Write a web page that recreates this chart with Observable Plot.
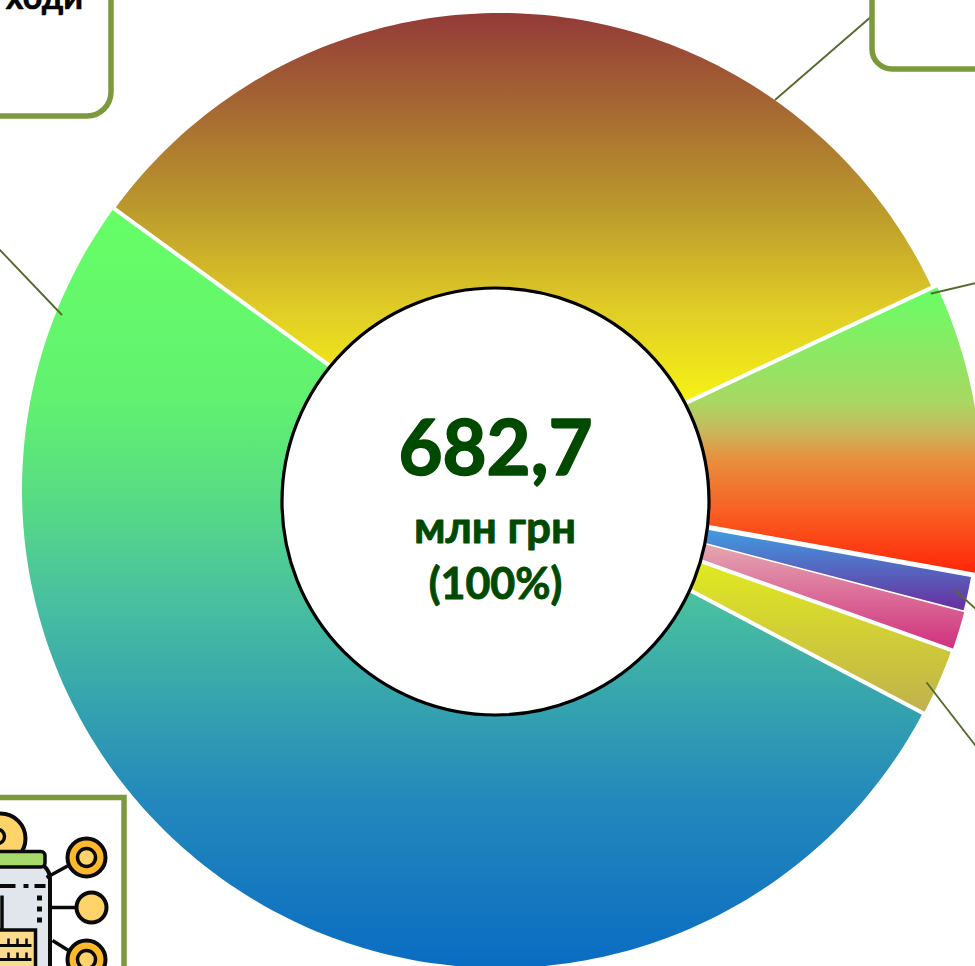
<!DOCTYPE html>
<html><head><meta charset="utf-8">
<script src="https://cdn.jsdelivr.net/npm/d3@7"></script>
<script src="https://cdn.jsdelivr.net/npm/@observablehq/plot@0.6"></script>
<style>html,body{margin:0;padding:0;background:#fff;overflow:hidden}</style>
</head><body><div id="chart"></div>
<script>
// Shares of the total (%), clockwise from the upper-left boundary
const categories = ["top", "green", "blue", "pink", "olive", "teal"];
const shares = [33.0, 9.8, 1.24, 1.36, 2.3, 52.3];
const total = "682,7";
const gradients = [
  [["0%","#933a38"],["50%","#bb9a2c"],["75%","#e0cc26"],["100%","#f7f414"]],
  [["0%","#66ff66"],["40%","#a8d862"],["50%","#c8b85c"],["60%","#e88f3e"],["80%","#fa5a20"],["100%","#ff2408"]],
  [["0%","#3ea3e4"],["100%","#6a2c9e"]],
  [["0%","#e6acb4"],["100%","#d02e7c"]],
  [["0%","#e2ec1e"],["100%","#c0b04e"]],
  [["0%","#66ff66"],["25%","#62f170"],["38%","#58dc84"],["52%","#48bfa0"],["78%","#2388bc"],["100%","#0a6cc2"]]
];
const outerRadius = [477, 482, 479, 480, 479, 478];
const gapWidth = [4, 5, 1.6, 4, 4, 4]; // white gap after each slice
const startDeg = -53.9, cx = 499.5, cy = 489.5, rIn = 196;

const rad = a => (a - 90) * Math.PI / 180;
const polar = (r, a) => [cx + r * Math.cos(rad(a)), cy + r * Math.sin(rad(a))];
const sum = d3.sum(shares);
let acc = startDeg;
const slices = shares.map((v, i) => {
  const a0 = acc, a1 = acc + v / sum * 360; acc = a1;
  const arc = d3.range(0, 1.0001, 1 / Math.max(8, Math.ceil(a1 - a0)));
  const pts = [...arc.map(t => polar(outerRadius[i], a0 + (a1 - a0) * t)),
               ...arc.slice().reverse().map(t => polar(rIn, a0 + (a1 - a0) * t))];
  return {id: "grad" + i, pts, end: a1, gap: gapWidth[i]};
});
const gaps = slices.map(s => {
  const [x1, y1] = polar(rIn - 10, s.end), [x2, y2] = polar(500, s.end);
  return {x1, y1, x2, y2, w: s.gap};
});

const green = "#7b9a3c", leader = "#556b2f", ink = "#004a00", K = "#0a0a0a";
const leaders = [
  [[872,15],[775,99]], [[-2,248],[61,314]], [[978,282],[931,293]],
  [[955,590],[978,611]], [[926.5,682.5],[978,749]]
];
const font = "Lato, Carlito, sans-serif";
const txt = (s, x, y, size, fill, sw) => Plot.text([s], {x, y, text: d => d, fill, stroke: fill, strokeWidth: sw, fontSize: size,
  fontWeight: 700, fontFamily: font, textAnchor: "middle", lineAnchor: "bottom"});
const box = (x1, y1, x2, y2, o) => Plot.rect([0], {x1, y1, x2, y2, ...o});
const circ = (x, y, r, fill, sw) => Plot.dot([0], {x, y, r, fill, stroke: K, strokeWidth: sw});
const seg = (x1, y1, x2, y2, w) => Plot.link([0], {x1, y1, x2, y2, stroke: K, strokeWidth: w});

const chart = Plot.plot({
  width: 975, height: 966, margin: 0, style: {background: "#fff"},
  x: {domain: [0, 975], range: [0, 975], axis: null},
  y: {domain: [0, 966], range: [0, 966], axis: null},
  marks: [
    ...slices.map(s => Plot.line(s.pts, {x: d => d[0], y: d => d[1], fill: `url(#${s.id})`, stroke: "none", curve: "linear-closed"})),
    Plot.link(gaps, {x1: "x1", y1: "y1", x2: "x2", y2: "y2", stroke: "#fff", strokeWidth: "w"}),
    ...leaders.map(l => Plot.line(l, {x: d => d[0], y: d => d[1], stroke: leader, strokeWidth: 1.9})),
    Plot.dot([0], {x: 495, y: 501, r: 213.5, fill: "#fff", stroke: "#000", strokeWidth: 3.2}),
    txt(total, 495, 474, 76, ink, 1.6),
    txt("млн грн", 494.5, 542, 44, ink, 0.9),
    txt("(100%)", 495, 598, 43, ink, 0.9),
    // callout boxes
    box(-60, -60, 111, 116, {fill: "#fff", stroke: green, strokeWidth: 5.5, rx: 24, ry: 24}),
    box(872, -60, 1100, 69, {fill: "#fff", stroke: green, strokeWidth: 5.5, rx: 20, ry: 20}),
    txt("ходи", 44, 8, 34, "#000", 0.6),
    // icon frame
    box(-20, 797.5, 124, 1000, {fill: "#fff", stroke: green, strokeWidth: 5.5}),
    circ(0, 838, 25, "#fdd36a", 4),
    Plot.dot([0], {x: -3, y: 836, r: 7, fill: "none", stroke: K, strokeWidth: 3.5}),
    box(-30, 862, 50, 1000, {fill: "#e1e5ec", stroke: K, strokeWidth: 4, rx: 17, ry: 17}),
    box(-12, 851.5, 45, 867, {fill: "#a6da6a", stroke: K, strokeWidth: 3.5, rx: 4, ry: 4}),
    seg(-2, 885.5, 15, 885.5, 4), seg(23, 885.5, 28, 885.5, 4), seg(34, 885.5, 45, 885.5, 4),
    seg(39, 895, 39, 900, 5), seg(39, 906, 39, 911, 5), seg(39, 917, 39, 922, 5),
    seg(1.5, 895, 1.5, 929, 3.5),
    box(-10, 930, 35.5, 1000, {fill: "#fbdc8c", stroke: K, strokeWidth: 3.5}),
    seg(-10, 945, 31, 945, 3), seg(-10, 959, 31, 959, 3),
    seg(8, 938, 8, 945, 2.5), seg(17, 938, 17, 945, 2.5), seg(26, 938, 26, 945, 2.5),
    seg(8, 952, 8, 959, 2.5), seg(17, 952, 17, 959, 2.5), seg(26, 952, 26, 959, 2.5),
    seg(46, 877, 68, 865, 3.5), seg(50, 907, 76, 907, 3.5), seg(52, 940, 68, 950, 3.5),
    circ(86, 857, 19, "#fdb92c", 4), circ(86, 857, 9, "#fdd36a", 3.5),
    circ(91, 907, 15, "#fdd36a", 4),
    circ(86, 959, 19, "#fdb92c", 4), circ(86, 959, 9, "#fdd36a", 3.5)
  ]
});
const defs = d3.select(chart).insert("defs", ":first-child");
slices.forEach((s, i) => {
  const g = defs.append("linearGradient").attr("id", s.id).attr("x1", 0).attr("x2", 0).attr("y1", 0).attr("y2", 1);
  gradients[i].forEach(([o, c]) => g.append("stop").attr("offset", o).attr("stop-color", c));
});
document.getElementById("chart").append(chart);
</script></body></html>
